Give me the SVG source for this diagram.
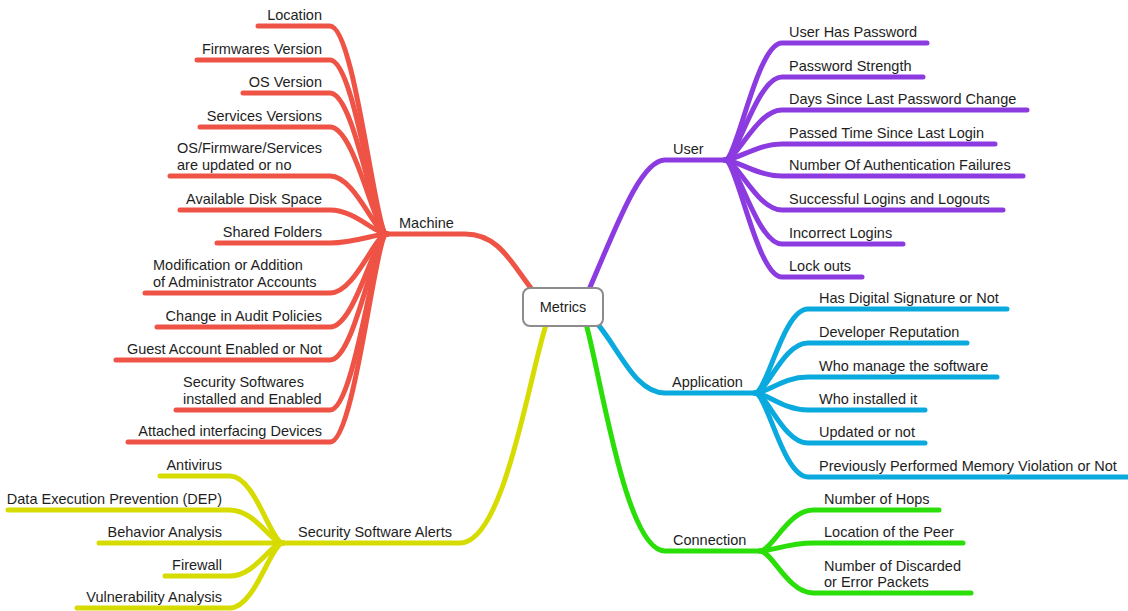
<svg xmlns="http://www.w3.org/2000/svg" width="1128" height="611" viewBox="0 0 1128 611">
<style>
  text{font-family:"Liberation Sans",Arial,Helvetica,sans-serif;font-size:14.5px;fill:#1e1e1e}
  .e{text-anchor:end}
  .c{text-anchor:middle}
  path{fill:none;stroke-width:5;stroke-linecap:round;stroke-linejoin:round}
  .red{stroke:#ee5346}
  .pur{stroke:#8b3be0}
  .blu{stroke:#0aa9de}
  .grn{stroke:#2ade08}
  .yel{stroke:#d6dc00}
</style>
<rect width="1128" height="611" fill="#fff"/>
<g id="connectors">
  <!-- main branches -->
  <path class="red" d="M387,234 H465 C500,234 512,265 534,292"/>
  <path class="pur" d="M588,292 C615,230 640,160 665,160 H725"/>
  <path class="blu" d="M596,322 C620,350 635,393 665,393 H755"/>
  <path class="grn" d="M585,320 C600,370 625,551 665,551 H760"/>
  <path class="yel" d="M547,322 C530,370 505,543 460,543 H283"/>
  <!-- machine children -->
  <g class="red">
    <path d="M258,26 H330 C355,26 375,234 387,234"/>
    <path d="M197,60 H330 C355,60 375,234 387,234"/>
    <path d="M243,93 H330 C355,93 375,234 387,234"/>
    <path d="M200,127 H330 C355,127 375,234 387,234"/>
    <path d="M170,176 H330 C355,176 375,234 387,234"/>
    <path d="M180,210 H330 C355,210 375,234 387,234"/>
    <path d="M217,243 H330 C355,243 375,234 387,234"/>
    <path d="M145,293 H330 C355,293 375,234 387,234"/>
    <path d="M157,327 H330 C355,327 375,234 387,234"/>
    <path d="M116,360 H330 C355,360 375,234 387,234"/>
    <path d="M176,410 H330 C355,410 375,234 387,234"/>
    <path d="M128,442 H330 C355,442 375,234 387,234"/>
  </g>
  <!-- user children -->
  <g class="pur">
    <path d="M725,160 C737,160 757,43 782,43 H927"/>
    <path d="M725,160 C737,160 757,77 782,77 H923"/>
    <path d="M725,160 C737,160 757,110 782,110 H1027"/>
    <path d="M725,160 C737,160 757,144 782,144 H995"/>
    <path d="M725,160 C737,160 757,176 782,176 H1023"/>
    <path d="M725,160 C737,160 757,210 782,210 H1003"/>
    <path d="M725,160 C737,160 757,244 782,244 H903"/>
    <path d="M725,160 C737,160 757,277 782,277 H862"/>
  </g>
  <!-- application children -->
  <g class="blu">
    <path d="M755,393 C767,393 783,309 808,309 H1007"/>
    <path d="M755,393 C767,393 783,343 808,343 H967"/>
    <path d="M755,393 C767,393 783,377 808,377 H997"/>
    <path d="M755,393 C767,393 783,410 808,410 H925"/>
    <path d="M755,393 C767,393 783,443 808,443 H925"/>
    <path d="M755,393 C767,393 783,477 808,477 H1132"/>
  </g>
  <!-- connection children -->
  <g class="grn">
    <path d="M760,551 C772,551 788,510 813,510 H939"/>
    <path d="M760,551 C772,551 788,543 813,543 H963"/>
    <path d="M760,551 C772,551 788,593 813,593 H971"/>
  </g>
  <!-- security children -->
  <g class="yel">
    <path d="M160,476 H230 C255,476 271,543 283,543"/>
    <path d="M8,510 H230 C255,510 271,543 283,543"/>
    <path d="M99,543 H283"/>
    <path d="M165,576 H230 C255,576 271,543 283,543"/>
    <path d="M77,608 H230 C255,608 271,543 283,543"/>
  </g>
</g>
<g id="metrics">
  <rect x="523" y="288" width="80" height="38" rx="7" fill="#fff" stroke="#8c8c8c" stroke-width="2"/>
  <text class="c" x="563" y="312">Metrics</text>
</g>
<g id="machine">
  <text x="399" y="228">Machine</text>
  <text class="e" x="322" y="20">Location</text>
  <text class="e" x="322" y="54">Firmwares Version</text>
  <text class="e" x="322" y="87">OS Version</text>
  <text class="e" x="322" y="121">Services Versions</text>
  <text x="177" y="153">OS/Firmware/Services</text>
  <text x="177" y="170">are updated or no</text>
  <text class="e" x="322" y="204">Available Disk Space</text>
  <text class="e" x="322" y="237">Shared Folders</text>
  <text x="153" y="270">Modification or Addition</text>
  <text x="153" y="287">of Administrator Accounts</text>
  <text class="e" x="322" y="321">Change in Audit Policies</text>
  <text class="e" x="322" y="354">Guest Account Enabled or Not</text>
  <text x="183" y="387">Security Softwares</text>
  <text x="183" y="404">installed and Enabled</text>
  <text class="e" x="322" y="436">Attached interfacing Devices</text>
</g>
<g id="user">
  <text x="673" y="154">User</text>
  <text x="789" y="37">User Has Password</text>
  <text x="789" y="71">Password Strength</text>
  <text x="789" y="104">Days Since Last Password Change</text>
  <text x="789" y="138">Passed Time Since Last Login</text>
  <text x="789" y="170">Number Of Authentication Failures</text>
  <text x="789" y="204">Successful Logins and Logouts</text>
  <text x="789" y="238">Incorrect Logins</text>
  <text x="789" y="271">Lock outs</text>
</g>
<g id="application">
  <text x="672" y="387">Application</text>
  <text x="819" y="303">Has Digital Signature or Not</text>
  <text x="819" y="337">Developer Reputation</text>
  <text x="819" y="371">Who manage the software</text>
  <text x="819" y="404">Who installed it</text>
  <text x="819" y="437">Updated or not</text>
  <text x="819" y="471">Previously Performed Memory Violation or Not</text>
</g>
<g id="connection">
  <text x="673" y="545">Connection</text>
  <text x="824" y="504">Number of Hops</text>
  <text x="824" y="537">Location of the Peer</text>
  <text x="824" y="571">Number of Discarded</text>
  <text x="824" y="587">or Error Packets</text>
</g>
<g id="security">
  <text x="298" y="537">Security Software Alerts</text>
  <text class="e" x="222" y="470">Antivirus</text>
  <text class="e" x="222" y="504">Data Execution Prevention (DEP)</text>
  <text class="e" x="222" y="537">Behavior Analysis</text>
  <text class="e" x="222" y="570">Firewall</text>
  <text class="e" x="222" y="602">Vulnerability Analysis</text>
</g>
</svg>
